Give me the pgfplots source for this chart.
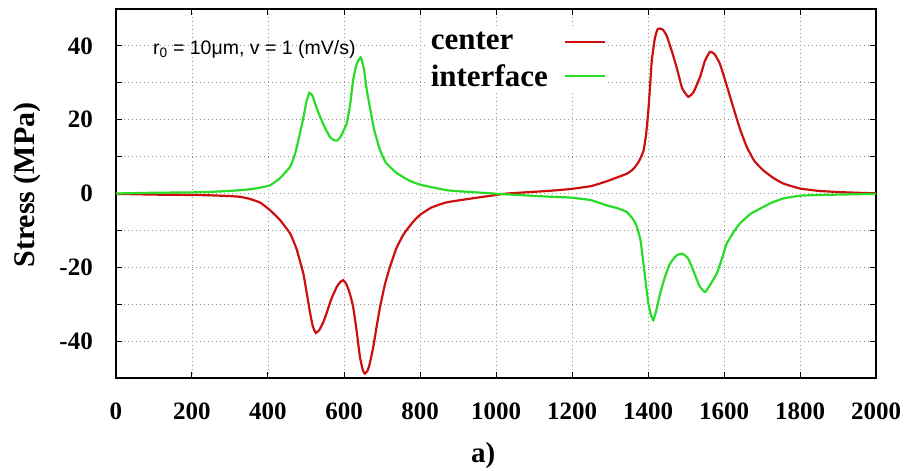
\documentclass[border=0pt]{standalone}
\usepackage{pgfplots}
\pgfplotsset{compat=1.18}
\usepackage{fontspec}
\setmainfont{Liberation Serif}
\newfontfamily\arial{Liberation Sans}
\definecolor{cred}{RGB}{204,16,16}
\definecolor{cgreen}{RGB}{40,220,40}
\begin{document}
\begin{tikzpicture}
\begin{axis}[
  at={(0,0)}, anchor=south west,
  scale only axis, width=760pt, height=369pt,
  xmin=0, xmax=2000, ymin=-50, ymax=50,
  xtick={0,200,...,2000},
  xticklabels={0,200,400,600,800,1000,1200,1400,1600,1800,2000},
  ytick={-40,-30,...,40},
  yticklabels={-40,{},-20,{},0,{},20,{},40},
  tick align=inside, tick pos=both, major tick length=6pt,
  grid=major,
  major grid style={gray!85, line width=0.9pt, dash pattern=on 1pt off 3pt},
  axis line style={line width=1.3pt},
  tick style={line width=1pt, black},
  ticklabel style={font=\fontsize{25}{25}\selectfont\bfseries},
  xticklabel style={inner sep=0pt, anchor=north, yshift=-25pt},
  yticklabel style={inner sep=0pt, anchor=east, xshift=-23pt},
  ylabel={Stress (MPa)},
  ylabel style={at={([xshift=-89pt]rel axis cs:0,0.523)}, anchor=center, rotate=0, font=\fontsize{30}{30}\selectfont\bfseries},
  xlabel={a)},
  xlabel style={at={([yshift=-78pt]rel axis cs:0.483,0)}, anchor=center, font=\fontsize{29}{29}\selectfont\bfseries},
  legend style={at={(rel axis cs:0.41,0.945)}, anchor=north west, draw=none, fill=white,
    font=\fontsize{31}{31}\selectfont\bfseries, inner sep=1pt, row sep=9pt},
  legend cell align=left,
  legend plot pos=right,
  legend image code/.code={\path (0pt,0pt); \draw[#1, line width=2pt] (14pt,0pt) -- (54pt,0pt);},
]
\addplot[cred, line width=2.2pt, smooth, tension=0.25] coordinates {
(0,-0.1) (100,-0.3) (200,-0.4) (250,-0.5) (300,-0.7) (326,-0.9) (350,-1.4) (380,-2.5)
(405,-4.5) (430,-7) (458,-10.8) (475,-15) (493,-21.7) (502,-27) (511,-32.5) (518,-36)
(526,-37.8) (535,-37) (545,-35) (554,-32.5) (567,-28.5) (581,-25.3) (590,-24) (598,-23.5)
(606,-24.5) (615,-27) (624,-30.7) (633,-37) (642,-44.3) (650,-48) (655,-48.8) (662,-48)
(668,-46) (677,-41.6) (686,-36) (695,-30.7) (708,-24.5) (721,-19.9) (738,-14.8) (756,-11.2)
(770,-9.2) (785,-7.3) (800,-5.8) (830,-3.8) (870,-2.4) (932,-1.4) (980,-0.7) (1019,-0.1) (1060,0.2)
(1107,0.5) (1150,0.8) (1195,1.2) (1250,2.0) (1291,3.3) (1320,4.4) (1345,5.4) (1361,6.6)
(1375,8.5) (1388,11.5) (1395,16) (1401,22.6) (1406,30) (1410,36.1) (1418,42) (1425,44.5)
(1432,44.7) (1440,44.3) (1449,42.8) (1462,38.8) (1475,34.3) (1490,28.5) (1506,26.2) (1520,27.5)
(1537,31.6) (1550,36) (1563,38.4) (1575,37.8) (1589,35.2) (1605,30) (1624,23.5) (1642,17.5)
(1660,12.6) (1680,8.8) (1703,6.3) (1730,4.2) (1756,2.7) (1800,1.35) (1850,0.7) (1900,0.4)
(1950,0.2) (2000,0.05)
};
\addlegendentry{center}
\addplot[cgreen, line width=2.2pt, smooth, tension=0.25] coordinates {
(0,0) (100,0.2) (200,0.3) (250,0.45) (300,0.7) (350,1.1) (380,1.6) (405,2.2)
(430,4) (458,7.2) (472,11) (484,16.3) (495,21.5) (502,25.3) (509,27.3) (517,26.5)
(527,23.5) (537,20.8) (550,17.8) (563,15.3) (575,14.4) (583,14.4) (592,15.5) (607,19)
(616,24) (624,30.7) (633,35) (644,36.9) (652,34) (660,28) (668,23.5) (680,17)
(695,11.7) (710,8.4) (738,5.6) (770,3.6) (800,2.4) (870,0.9) (932,0.4) (980,0.1)
(1019,-0.2) (1060,-0.4) (1107,-0.7) (1150,-0.9) (1195,-1.1) (1250,-1.8) (1291,-3.2) (1320,-4.0)
(1344,-5.0) (1361,-7) (1370,-8.8) (1380,-12.5) (1388,-19) (1395,-25) (1401,-29.8) (1408,-33)
(1414,-34.3) (1421,-32) (1432,-27.1) (1445,-22.5) (1458,-19) (1475,-16.8) (1490,-16.3) (1505,-17.5)
(1519,-20.8) (1535,-25) (1550,-26.7) (1565,-24.5) (1581,-21.7) (1595,-17.5) (1607,-13.6) (1625,-10.5)
(1642,-8.1) (1670,-5.5) (1695,-4.1) (1725,-2.5) (1756,-1.35) (1800,-0.6) (1850,-0.4) (1900,-0.3)
(1950,-0.2) (2000,-0.1)
};
\addlegendentry{interface}
\node[anchor=base west, inner sep=0pt, font=\arial\fontsize{19.5}{19.5}\selectfont] at (axis cs:97,37.7) {r\textsubscript{0} = 10μm, v = 1 (mV/s)};
\end{axis}
\pgfresetboundingbox
\path[use as bounding box] (-116pt,-93pt) rectangle (802pt,378pt);
\end{tikzpicture}
\end{document}
